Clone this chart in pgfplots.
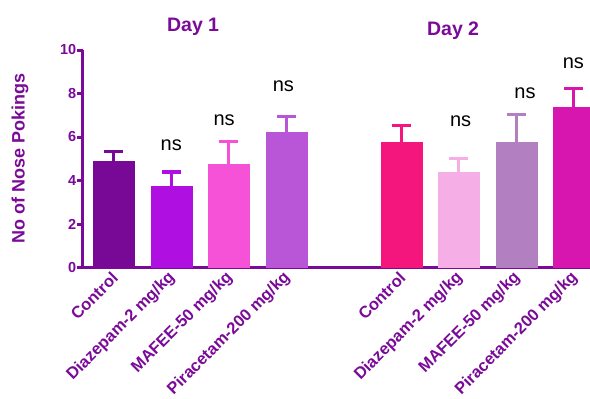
\documentclass[border=0pt]{standalone}
\usepackage{fontspec}
\setmainfont{Liberation Sans}
\usepackage{pgfplots}
\pgfplotsset{compat=1.18}

\definecolor{axpurple}{RGB}{122,10,152}
\definecolor{cA}{RGB}{120,8,150}
\definecolor{cB}{RGB}{175,15,225}
\definecolor{cC}{RGB}{245,82,215}
\definecolor{cD}{RGB}{185,85,215}
\definecolor{cE}{RGB}{245,22,125}
\definecolor{cF}{RGB}{245,175,230}
\definecolor{cG}{RGB}{178,128,192}
\definecolor{cH}{RGB}{215,22,175}

\pgfplotsset{
  grp/.style={fill=#1, draw=#1,
    error bars/.cd, y dir=plus, y explicit,
    error bar style={#1, line width=3pt},
    error mark options={#1, rotate=90, line width=3.2pt, mark size=9.5pt}},
}

\begin{document}
\begin{tikzpicture}
\begin{axis}[
  name=ax,
  scale only axis, width=507pt, height=217.5pt,
  xmin=-0.534, xmax=8.28, ymin=0, ymax=10,
  axis x line=bottom, axis y line=left,
  axis line style={axpurple, line width=3pt, -},
  ytick={0,2,4,6,8,10},
  tick align=outside, major tick length=6pt,
  ytick style={axpurple, line width=3pt},
  xtick={0,1,2,3,5,6,7,8},
  xticklabels={Control, Diazepam-2 mg/kg, MAFEE-50 mg/kg, Piracetam-200 mg/kg,
               Control, Diazepam-2 mg/kg, MAFEE-50 mg/kg, Piracetam-200 mg/kg},
  xtick style={draw=none},
  /pgf/number format/assume math mode=true,
  yticklabel style={font=\fontsize{14.5}{14.5}\selectfont\bfseries, text=axpurple, inner sep=0.5pt},
  xticklabel style={font=\fontsize{16.5}{16.5}\selectfont\bfseries, text=axpurple,
                    yshift=-1pt, xshift=2pt, rotate=45, anchor=east, inner sep=1pt},
  ylabel={No of Nose Pokings},
  every axis y label/.style={at={(axis description cs:-0.1243,0.5)}, rotate=90, anchor=center,
                             font=\fontsize{18}{18}\selectfont\bfseries, text=axpurple},
  ybar, bar width=41pt,
  every axis plot/.append style={bar shift=0pt},
  clip=true,
]
% Day 1
\addplot[grp=cA] coordinates {(0,4.90) +- (0,0.44)};
\addplot[grp=cB] coordinates {(1,3.72) +- (0,0.67)};
\addplot[grp=cC] coordinates {(2,4.73) +- (0,1.05)};
\addplot[grp=cD] coordinates {(3,6.23) +- (0,0.70)};
% Day 2
\addplot[grp=cE] coordinates {(5,5.74) +- (0,0.78)};
\addplot[grp=cF] coordinates {(6,4.38) +- (0,0.62)};
\addplot[grp=cG] coordinates {(7,5.74) +- (0,1.29)};
\addplot[grp=cH] coordinates {(8,7.39) +- (0,0.83)};
\end{axis}

% titles and significance labels, positioned in data units
\begin{axis}[
  scale only axis, width=507pt, height=217.5pt,
  xmin=-0.534, xmax=8.28, ymin=0, ymax=10,
  hide axis, clip=false, at={(ax.south west)}, anchor=south west,
]
\node[anchor=base, font=\fontsize{19.5}{19.5}\selectfont\bfseries, text=axpurple] at (axis cs:1.38,10.83) {Day 1};
\node[anchor=base, font=\fontsize{19.5}{19.5}\selectfont\bfseries, text=axpurple] at (axis cs:5.90,10.66) {Day 2};
\node[anchor=base, font=\fontsize{20}{20}\selectfont] at (axis cs:1.00,5.40) {ns};
\node[anchor=base, font=\fontsize{20}{20}\selectfont] at (axis cs:1.92,6.55) {ns};
\node[anchor=base, font=\fontsize{20}{20}\selectfont] at (axis cs:2.95,8.08) {ns};
\node[anchor=base, font=\fontsize{20}{20}\selectfont] at (axis cs:6.03,6.47) {ns};
\node[anchor=base, font=\fontsize{20}{20}\selectfont] at (axis cs:7.15,7.78) {ns};
\node[anchor=base, font=\fontsize{20}{20}\selectfont] at (axis cs:7.99,9.16) {ns};
\end{axis}

\pgfresetboundingbox
\path[use as bounding box] ([xshift=-83pt,yshift=-131.5pt]ax.south west) rectangle ([xshift=507pt,yshift=267.5pt]ax.south west);
\end{tikzpicture}
\end{document}
